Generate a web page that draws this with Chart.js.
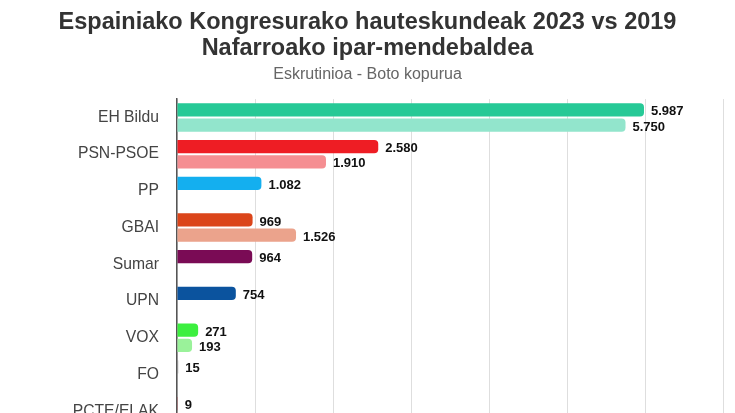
<!DOCTYPE html>
<html>
<head>
<meta charset="utf-8">
<script src="https://cdn.jsdelivr.net/npm/chart.js@4.4.1/dist/chart.umd.min.js"></script>
<style>
  html, body { margin: 0; padding: 0; background: #fff; overflow: hidden; }
  #wrap { position: relative; width: 735px; height: 457px; }
</style>
</head>
<body>
<div id="wrap"><canvas id="c"></canvas></div>
<script>
const categories = ["EH Bildu", "PSN-PSOE", "PP", "GBAI", "Sumar", "UPN", "VOX", "FO", "PCTE/ELAK"];
const votes2023 = [5987, 2580, 1082, 969, 964, 754, 271, 15, 9];
const votes2019 = [5750, 1910, null, 1526, null, null, 193, null, 11];
const xTicks = [0, 1000, 2000, 3000, 4000, 5000, 6000, 7000];
const colors2023 = ["#26C996", "#EE1D24", "#14AFEF", "#DB451A", "#7A0B55", "#0B539E", "#3CEF3F", "#8A8A8A", "#B5121B"];
const colors2019 = ["#92E5CC", "#F58E92", "#8AD7F7", "#EBA38C", "#BC85AA", "#85A9CE", "#9AF29A", "#C4C4C4", "#DA888D"];

function fmt(v) {
  return String(v).replace(/\B(?=(\d{3})+(?!\d))/g, ".");
}

const valueLabels = {
  id: "valueLabels",
  afterDatasetsDraw(chart) {
    const ctx = chart.ctx;
    ctx.save();
    ctx.font = "bold 13px 'Liberation Sans', Arial, sans-serif";
    ctx.fillStyle = "#111";
    ctx.textAlign = "left";
    ctx.textBaseline = "middle";
    chart.data.datasets.forEach((ds, di) => {
      const meta = chart.getDatasetMeta(di);
      meta.data.forEach((el, i) => {
        const v = ds.data[i];
        if (v === null || v === undefined) return;
        ctx.fillText(fmt(v), el.x + 7, el.y + 2);
      });
    });
    ctx.restore();
  }
};

new Chart(document.getElementById("c"), {
  type: "bar",
  data: {
    labels: categories,
    datasets: [
      { label: "2023", data: votes2023, backgroundColor: colors2023, borderRadius: 4, borderSkipped: "start",
        categoryPercentage: 0.83, barPercentage: 0.87 },
      { label: "2019", data: votes2019, backgroundColor: colors2019, borderRadius: 4, borderSkipped: "start",
        categoryPercentage: 0.83, barPercentage: 0.87 }
    ]
  },
  options: {
    indexAxis: "y",
    responsive: true,
    maintainAspectRatio: false,
    animation: false,
    layout: { padding: { left: 12, right: 12, top: 0, bottom: 14 } },
    plugins: {
      legend: { display: false },
      tooltip: { enabled: false },
      title: {
        display: true,
        text: ["Espainiako Kongresurako hauteskundeak 2023 vs 2019", "Nafarroako ipar-mendebaldea"],
        color: "#333",
        font: { family: "'Liberation Sans', Arial, sans-serif", size: 23.5, weight: "bold", lineHeight: 1.106 },
        padding: { top: 9.9, bottom: 2.9 }
      },
      subtitle: {
        display: true,
        text: "Eskrutinioa - Boto kopurua",
        color: "#666",
        font: { family: "'Liberation Sans', Arial, sans-serif", size: 16, lineHeight: 1.2 },
        padding: { top: 0, bottom: 15.1 }
      }
    },
    scales: {
      x: {
        min: 0,
        max: 7000,
        afterBuildTicks(scale) { scale.ticks = xTicks.map(v => ({ value: v })); },
        ticks: { display: false },
        grid: { color: "#dedede", lineWidth: 1, drawTicks: false },
        border: { display: false }
      },
      y: {
        afterFit(scale) { scale.width = 165; },
        ticks: {
          color: "#444",
          padding: 18,
          font: { family: "'Liberation Sans', Arial, sans-serif", size: 15.7 }
        },
        grid: { display: false, drawTicks: false },
        border: { display: true, color: "#555", width: 1.5 }
      }
    }
  },
  plugins: [valueLabels]
});
</script>
</body>
</html>
